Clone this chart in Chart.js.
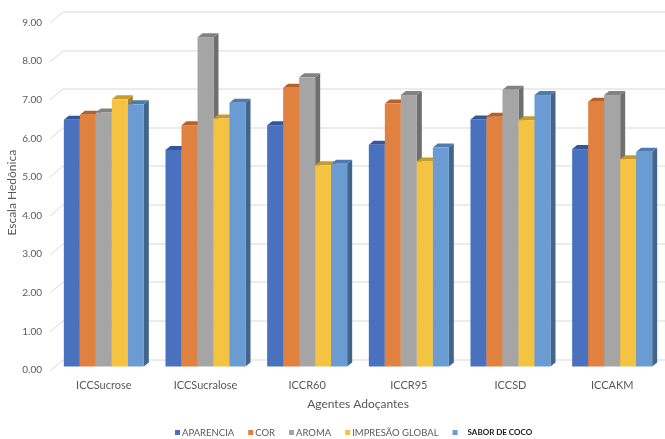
<!DOCTYPE html>
<html>
<head>
<meta charset="utf-8">
<script src="https://cdn.jsdelivr.net/npm/chart.js@4.4.0/dist/chart.umd.min.js"></script>
<style>
  html, body { margin: 0; padding: 0; background: #fff; }
  #wrap { width: 665px; height: 439px; }
</style>
</head>
<body>
<div id="wrap"><canvas id="chart"></canvas></div>
<script>
const categories = ["ICCSucrose", "ICCSucralose", "ICCR60", "ICCR95", "ICCSD", "ICCAKM"];
const aparencia = [6.39, 5.61, 6.25, 5.74, 6.40, 5.63];
const cor = [6.52, 6.25, 7.22, 6.81, 6.47, 6.86];
const aroma = [6.58, 8.53, 7.49, 7.03, 7.17, 7.03];
const impresaoGlobal = [6.92, 6.42, 5.21, 5.31, 6.38, 5.37];
const saborDeCoco = [6.79, 6.83, 5.25, 5.67, 7.03, 5.56];
const seriesNames = ["APARENCIA", "COR", "AROMA", "IMPRESÃO GLOBAL", "SABOR DE COCO"];
const yTicks = [0, 1, 2, 3, 4, 5, 6, 7, 8, 9];

const frontColors = ["#4A71BD", "#E0813F", "#A5A5A5", "#F5C342", "#6A9BD2"];
const topColors = ["#34569A", "#B5622A", "#828282", "#C99C28", "#4E7AAE"];
const sideColors = ["#2E4C87", "#9E5220", "#6F6F6F", "#AD8420", "#42658C"];
const textColor = "#595959";
const font = "Lato, 'Open Sans', sans-serif";

// depth of bars and of the back wall
const dx = 5, dy = 4;
const wallDx = 13, wallDy = 11;

const gridPlugin = {
  id: "grid3d",
  beforeDatasetsDraw(chart) {
    const ctx = chart.ctx;
    const y = chart.scales.y;
    ctx.save();
    ctx.strokeStyle = "#D9D9D9";
    ctx.lineWidth = 1;
    yTicks.forEach(v => {
      const py = Math.round(y.getPixelForValue(v)) + 0.5;
      ctx.beginPath();
      ctx.moveTo(50, py + 3.5);
      ctx.lineTo(50 + wallDx, py + 3.5 - wallDy);
      ctx.lineTo(chart.width, py + 3.5 - wallDy);
      ctx.stroke();
    });
    ctx.restore();
  }
};

const barsPlugin = {
  id: "bars3d",
  beforeDatasetsDraw(chart) {
    const ctx = chart.ctx;
    const items = [];
    chart.data.datasets.forEach((ds, i) => {
      chart.getDatasetMeta(i).data.forEach(bar => items.push({ bar, i }));
    });
    items.sort((a, b) => a.bar.x - b.bar.x);
    ctx.save();
    items.forEach(({ bar, i }) => {
      const l = bar.x - bar.width / 2, r = bar.x + bar.width / 2;
      const t = bar.y, b = bar.base;
      ctx.fillStyle = sideColors[i];
      ctx.beginPath();
      ctx.moveTo(r, t); ctx.lineTo(r + dx, t - dy); ctx.lineTo(r + dx, b - dy); ctx.lineTo(r, b);
      ctx.closePath(); ctx.fill();
      ctx.fillStyle = topColors[i];
      ctx.beginPath();
      ctx.moveTo(l, t); ctx.lineTo(l + dx, t - dy); ctx.lineTo(r + dx, t - dy); ctx.lineTo(r, t);
      ctx.closePath(); ctx.fill();
      ctx.fillStyle = frontColors[i];
      ctx.fillRect(l, t, r - l, b - t);
    });
    ctx.restore();
    return false;
  }
};

const legendPlugin = {
  id: "legendBottom",
  afterDraw(chart) {
    const ctx = chart.ctx;
    const box = 5, cy = 432.5;
    let x = 175;
    ctx.save();
    ctx.textBaseline = "middle";
    seriesNames.forEach((name, i) => {
      const last = i === seriesNames.length - 1;
      ctx.fillStyle = frontColors[i];
      ctx.fillRect(x, cy - box / 2, box, box);
      x += box + (last ? 10 : 2);
      ctx.font = last ? "bold 8px " + font : "9.5px " + font;
      ctx.fillStyle = last ? "#1a1a1a" : textColor;
      ctx.fillText(name, x, cy);
      x += ctx.measureText(name).width + 14;
    });
    ctx.restore();
  }
};

const seriesData = [aparencia, cor, aroma, impresaoGlobal, saborDeCoco];

new Chart(document.getElementById("chart"), {
  type: "bar",
  data: {
    labels: categories,
    datasets: seriesNames.map((name, i) => ({
      label: name,
      data: seriesData[i],
      backgroundColor: frontColors[i],
      barPercentage: 1,
      categoryPercentage: 0.787
    }))
  },
  options: {
    responsive: true,
    maintainAspectRatio: false,
    animation: false,
    layout: { padding: { left: 0, right: 2, top: 19, bottom: 0 } },
    plugins: { legend: { display: false }, tooltip: { enabled: false } },
    scales: {
      x: {
        grid: { display: false, drawTicks: false },
        border: { display: false },
        ticks: { padding: 12, color: textColor, font: { family: font, size: 11 } },
        title: {
          display: true, text: "Agentes Adoçantes", color: textColor,
          font: { family: font, size: 12 }, padding: { top: 0, bottom: 28 }
        },
        afterFit(s) { s.height = 72.5; }
      },
      y: {
        min: 0, max: 9,
        afterBuildTicks(s) { s.ticks = yTicks.map(v => ({ value: v })); },
        grid: { display: false, drawTicks: false },
        border: { display: false },
        ticks: {
          padding: 11, labelOffset: 3.5, color: textColor,
          font: { family: font, size: 10 },
          callback: v => Number(v).toFixed(2)
        },
        title: {
          display: true, text: "Escala Hedônica", color: textColor,
          font: { family: font, size: 12 }, padding: { top: 5, bottom: 0 }
        },
        afterFit(s) { s.width = 53; }
      }
    }
  },
  plugins: [gridPlugin, barsPlugin, legendPlugin]
});
</script>
</body>
</html>
